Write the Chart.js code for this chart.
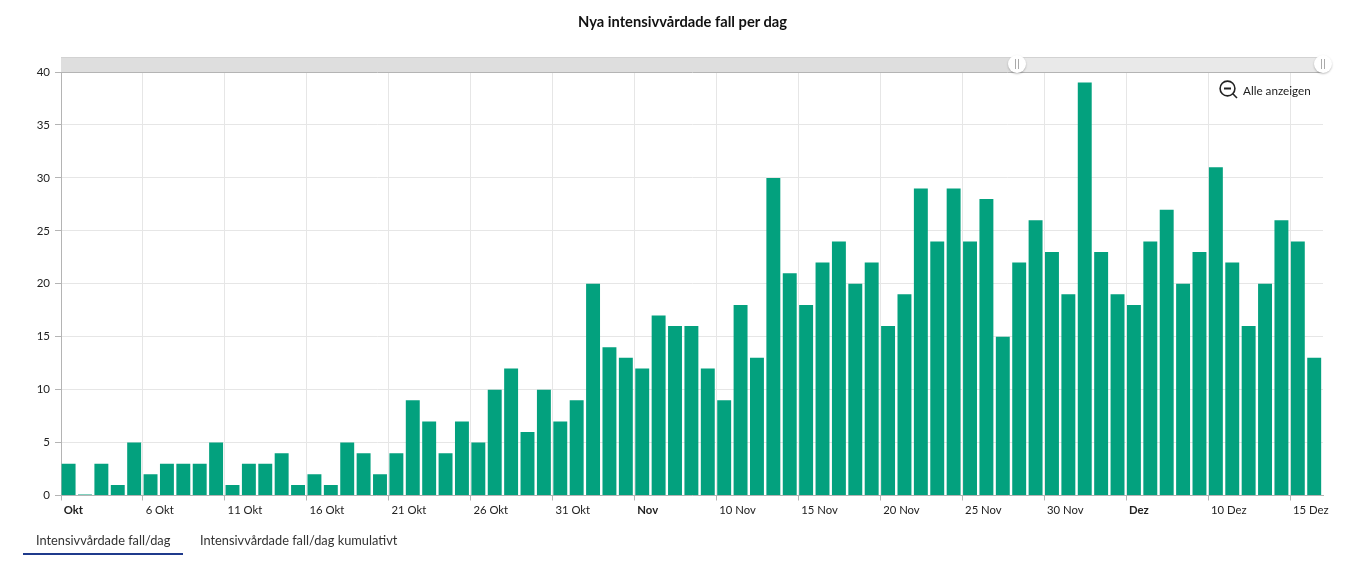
<!DOCTYPE html>
<html lang="sv">
<head>
<meta charset="utf-8">
<title>Nya intensivvårdade fall per dag</title>
<script src="https://cdn.jsdelivr.net/npm/chart.js@4"></script>
<style>
  html, body { margin: 0; padding: 0; background: #fff; }
  body { width: 1365px; height: 564px; overflow: hidden; position: relative; font-family: Lato, sans-serif; color: #222; }
  canvas { position: absolute; left: 0; top: 0; }
  .chart-title { position: absolute; left: 0; top: 12px; width: 1365px; text-align: center; font-size: 14.7px; font-weight: bold; line-height: 18px; color: #111; }
  .track { position: absolute; top: 57px; height: 15px; box-sizing: border-box; border-top: 1px solid #d2d2d2; }
  .track.left { left: 61px; width: 956px; background: #dedede; }
  .track.right { left: 1017px; width: 306px; background: #e9e9e9; }
  .handle { position: absolute; top: 55px; width: 18px; height: 18px; margin-left: -9px; border-radius: 50%; background: #fff; box-shadow: 0 1px 2px rgba(0,0,0,0.25); }
  .handle::after { content: ''; position: absolute; left: 6.5px; top: 4px; height: 10px; border-left: 1px solid #aaa; border-right: 1px solid #aaa; width: 2px; }
  .zoom-out { position: absolute; left: 1219px; top: 80px; display: flex; align-items: center; font-size: 11.7px; }
  .zoom-out svg { margin-right: 5px; }
  .tab { position: absolute; top: 532px; font-size: 12.8px; color: #333; white-space: nowrap; }
  .tab-line { position: absolute; left: 23px; top: 553px; width: 160px; height: 2px; background: #1f3a8c; }
</style>
</head>
<body>
<canvas id="chart-daily" width="1365" height="564"></canvas>

<div class="chart-title">Nya intensivvårdade fall per dag</div>

<div class="track left"></div>
<div class="track right"></div>
<div class="handle" style="left:1017px"></div>
<div class="handle" style="left:1323px"></div>

<div class="zoom-out">
  <svg width="19" height="19" viewBox="0 0 19 19" fill="none" stroke="#222" stroke-width="1.6">
    <circle cx="8.5" cy="8.5" r="7.4"/>
    <line x1="5" y1="8.5" x2="12" y2="8.5" stroke-width="2"/>
    <line x1="13.8" y1="13.8" x2="18" y2="18"/>
  </svg>
  <span>Alle anzeigen</span>
</div>

<div class="tab" style="left:36px">Intensivvårdade fall/dag</div>
<div class="tab-line"></div>
<div class="tab" style="left:200px">Intensivvårdade fall/dag kumulativt</div>

<script>
  // Data
  const octDays = ['1','2','3','4','5','6','7','8','9','10','11','12','13','14','15','16','17','18','19','20','21','22','23','24','25','26','27','28','29','30','31'].map(d => d + ' Okt');
  const novDays = ['1','2','3','4','5','6','7','8','9','10','11','12','13','14','15','16','17','18','19','20','21','22','23','24','25','26','27','28','29','30'].map(d => d + ' Nov');
  const decDays = ['1','2','3','4','5','6','7','8','9','10','11','12','13','14','15','16'].map(d => d + ' Dez');
  const days = [...octDays, ...novDays, ...decDays];

  const octCases = [3,0,3,1,5,2,3,3,3,5,1,3,3,4,1,2,1,5,4,2,4,9,7,4,7,5,10,12,6,10,7];
  const novCases = [9,20,14,13,12,17,16,16,12,9,18,13,30,21,18,22,24,20,22,16,19,29,24,29,24,28,15,22,26,23];
  const decCases = [19,39,23,19,18,24,27,20,23,31,22,16,20,26,24,13];
  const cases = [...octCases, ...novCases, ...decCases];

  // Shown tick labels, by the day they sit on
  const tickDays = ['1 Okt','6 Okt','11 Okt','16 Okt','21 Okt','26 Okt','31 Okt','5 Nov','10 Nov','15 Nov','20 Nov','25 Nov','30 Nov','5 Dez','10 Dez','15 Dez'];
  const tickTexts = ['Okt','6 Okt','11 Okt','16 Okt','21 Okt','26 Okt','31 Okt','Nov','10 Nov','15 Nov','20 Nov','25 Nov','30 Nov','Dez','10 Dez','15 Dez'];
  const boldTicks = ['Okt','Nov','Dez'];

  const yTicks = [0,5,10,15,20,25,30,35,40];

  const FONT = 'Lato, sans-serif';
  const tickText = i => {
    const at = tickDays.indexOf(days[i]);
    return at < 0 ? '' : tickTexts[at];
  };

  // bars sit against the left edge of their day slot
  const barsToSlotStart = {
    id: 'barsToSlotStart',
    afterDatasetsUpdate(chart) {
      chart.getDatasetMeta(0).data.forEach(bar => { bar.x -= 0.6; });
    }
  };

  new Chart(document.getElementById('chart-daily'), {
    type: 'bar',
    data: {
      labels: days,
      datasets: [{
        data: cases,
        backgroundColor: '#03a17e',
        categoryPercentage: 1,
        barPercentage: 0.85,
        minBarLength: 1
      }]
    },
    plugins: [barsToSlotStart],
    options: {
      responsive: false,
      animation: false,
      layout: { padding: { top: 72, right: 42 } },
      plugins: {
        legend: { display: false },
        tooltip: { enabled: false }
      },
      scales: {
        x: {
          offset: true,
          afterFit: s => { s.height = 68.5; },
          border: { color: '#b4b4b4' },
          grid: {
            offset: true,
            tickLength: 5,
            color: c => tickText(c.index) ? '#e6e6e6' : 'transparent',
            tickColor: c => tickText(c.index) ? '#b4b4b4' : 'transparent'
          },
          ticks: {
            autoSkip: false,
            maxRotation: 0,
            align: 'start',
            labelOffset: -5.5,
            padding: 3,
            color: '#222',
            font: c => ({
              family: FONT,
              size: 11.3,
              weight: boldTicks.includes(tickText(c.index)) ? 'bold' : 'normal'
            }),
            callback: (v, i) => tickText(i)
          }
        },
        y: {
          min: 0,
          max: 40,
          afterFit: s => { s.width = 61; },
          afterBuildTicks: s => { s.ticks = yTicks.map(value => ({ value })); },
          border: { color: '#b4b4b4' },
          grid: {
            color: c => c.tick.value === 40 ? '#b4b4b4' : '#e6e6e6',
            tickLength: 6,
            tickColor: '#b4b4b4'
          },
          ticks: {
            padding: 5,
            color: '#222',
            font: { family: FONT, size: 11.5 }
          }
        }
      }
    }
  });
</script>
</body>
</html>
